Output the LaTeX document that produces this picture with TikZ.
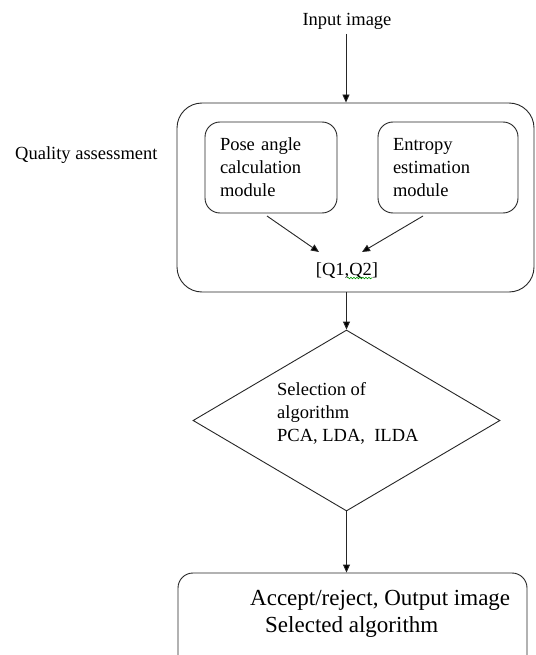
\documentclass[tikz,border=0pt]{standalone}
\usepackage{fontspec}
\setmainfont{Liberation Serif}
\usetikzlibrary{arrows.meta,shapes.geometric,decorations.pathmorphing}
\begin{document}
\begin{tikzpicture}[x=1pt,y=-1pt,
  every node/.style={font=\fontsize{18.5}{23}\selectfont},
  line/.style={line width=0.9pt,draw=black!85},
  arr/.style={line, -{Triangle[length=8pt,width=7pt,fill=black]}},
  bigbox/.style={line, rounded corners=25pt, rectangle, inner sep=0pt},
  modbox/.style={line, rounded corners=15pt, rectangle, align=left, inner xsep=15pt, inner ysep=0pt, minimum height=91pt},
  plain/.style={inner sep=0pt}
]
\clip (0,0) rectangle (535,655);
\fill[white] (0,0) rectangle (535,655);

\node[plain] (in) at (347,21) {Input image};
\node[plain, anchor=west] (qa) at (15,155) {Quality assessment};

\node[bigbox, minimum width=357pt, minimum height=189pt] (big) at (355.5,197.5) {};
\node[modbox, text width=102pt] (pose) at (271,167.5) {Pose angle\\calculation\\module};
\node[modbox, text width=110pt] (ent) at (448,167.5) {Entropy\\estimation\\module};
\node[plain] (q) at (347,271) {[Q1,Q2]};
\coordinate (qa1) at (319,252);
\coordinate (qb1) at (362,252);
\coordinate (ps) at (267,216);
\coordinate (es) at (423,216);

\node[line, diamond, minimum width=307pt, minimum height=181pt, inner sep=0pt] (dia) at (346.5,420.5) {};
\node[plain, align=left, anchor=west] (dtxt) at (277,413.5) {Selection of\\algorithm\\PCA, LDA,\ \ ILDA};

\node[line, rounded corners=15pt, rectangle, minimum width=349pt, minimum height=127pt, inner sep=0pt] (out) at (352.5,636.5) {};
\node[plain, align=left, anchor=west, font=\fontsize{23}{27}\selectfont] (otxt) at (250,613.5) {Accept/reject, Output image\\\hspace*{15pt}Selected algorithm};

\coordinate (ins) at (346,34);
\draw[arr] (ins) -- (ins |- big.north);
\draw[arr] (ps) -- (qa1);
\draw[arr] (es) -- (qb1);
\draw[arr] (big.south -| dia.north) -- (dia.north);
\draw[arr] (dia.south) -- (dia.south |- out.north);

\draw[green!60!black, line width=0.6pt, decorate, decoration={snake, amplitude=0.8pt, segment length=3pt}] (347,278) -- (372,278);
\end{tikzpicture}
\end{document}
